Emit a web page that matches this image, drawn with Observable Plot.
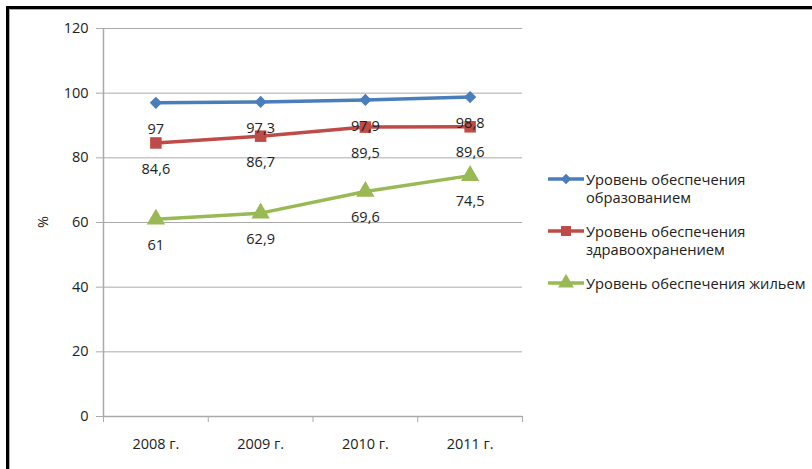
<!DOCTYPE html>
<html>
<head>
<meta charset="utf-8">
<script src="https://cdn.jsdelivr.net/npm/d3@7"></script>
<script src="https://cdn.jsdelivr.net/npm/@observablehq/plot@0.6"></script>
<style>
  html, body { margin: 0; padding: 0; background: #fff; }
  #wrap { position: relative; width: 812px; height: 469px; overflow: hidden; font-family: "Open Sans", sans-serif; color: #222; }
  #chart svg { display: block; }
  #frame { position: absolute; left: 6px; top: 6px; right: -10px; bottom: -10px; border-top: 3px solid #000; border-left: 3px solid #000; pointer-events: none; }
  #frame2 { position: absolute; left: 9px; top: 9px; right: -10px; bottom: -10px; border-top: 1px solid #b0b0b0; border-left: 1px solid #b0b0b0; pointer-events: none; }
  #ylabel { position: absolute; left: 42px; top: 222px; transform: translate(-50%, -50%) rotate(-90deg); font-size: 14.5px; }
  #legend { position: absolute; left: 548px; top: 170px; display: flex; flex-direction: column; gap: 16px; }
  .item { display: flex; align-items: flex-start; }
  .item svg { flex: none; margin-right: 2px; }
  .item span { font-size: 14.7px; line-height: 18px; max-width: 226px; }
</style>
</head>
<body>
<div id="wrap">
  <div id="chart"></div>
  <div id="ylabel">%</div>
  <div id="legend"></div>
  <div id="frame"></div>
  <div id="frame2"></div>
</div>
<script>
const categories = ["2008 г.", "2009 г.", "2010 г.", "2011 г."];
const seriesNames = ["Уровень обеспечения образованием", "Уровень обеспечения здравоохранением", "Уровень обеспечения жильем"];
const education = [97, 97.3, 97.9, 98.8];
const health = [84.6, 86.7, 89.5, 89.6];
const housing = [61, 62.9, 69.6, 74.5];
const yTicks = [0, 20, 40, 60, 80, 100, 120];

const colors = ["#4a7ebb", "#be4b48", "#98b954"];
const symbols = ["diamond2", "square", "triangle"];
const radii = [5.5, 6.5, 6.8];
const valuesBySeries = [education, health, housing];

const data = [];
valuesBySeries.forEach((vals, s) => vals.forEach((v, i) => data.push({series: seriesNames[s], s, idx: i + 1, value: v})));

const fmt = v => String(v).replace(".", ",");
const xDomain = [0.5, categories.length + 0.5];
const boundaries = d3.range(categories.length + 1).map(i => i + 0.5);
const centers = categories.map((_, i) => i + 1);

const marks = [
  Plot.ruleY(yTicks, {stroke: "#aaaaaa", strokeWidth: 1}),
  Plot.axisY({ticks: yTicks, tickSize: 7, tickPadding: 8, stroke: "#aaaaaa", fontSize: 14.5, fill: "#222", label: null}),
  Plot.ruleX([xDomain[0]], {stroke: "#aaaaaa", strokeWidth: 1.5}),
  Plot.axisX({ticks: boundaries, tickSize: 6, tickFormat: () => "", stroke: "#aaaaaa", label: null}),
  Plot.axisX({ticks: centers, tickSize: 0, tickPadding: 22, tickFormat: d => categories[d - 1], fontSize: 14.5, fill: "#222", label: null}),
  Plot.ruleY([0], {stroke: "#aaaaaa", strokeWidth: 1.5})
];
seriesNames.forEach((name, s) => {
  const d = data.filter(r => r.s === s);
  marks.push(Plot.line(d, {x: "idx", y: "value", stroke: colors[s], strokeWidth: 3.5}));
  marks.push(Plot.dot(d, {x: "idx", y: "value", symbol: () => symbols[s], r: radii[s], fill: colors[s], stroke: "none"}));
});
marks.push(Plot.text(data, {x: "idx", y: "value", text: d => fmt(d.value), dy: 26, fontSize: 14.5, fill: "#222"}));

const chart = Plot.plot({
  width: 812,
  height: 469,
  marginLeft: 103,
  marginRight: 290,
  marginTop: 28,
  marginBottom: 53,
  style: {fontFamily: "Open Sans, sans-serif", background: "#fff"},
  x: {type: "linear", domain: xDomain, axis: null},
  y: {domain: [0, 120], axis: null},
  symbol: {type: "identity"},
  marks
});
document.getElementById("chart").appendChild(chart);

// legend
const legend = document.getElementById("legend");
const symGen = {diamond2: d3.symbolDiamond2, square: d3.symbolSquare, triangle: d3.symbolTriangle};
seriesNames.forEach((name, s) => {
  const item = document.createElement("div");
  item.className = "item";
  const size = Math.PI * radii[s] * radii[s] * 0.75;
  const path = d3.symbol(symGen[symbols[s]], size)();
  item.innerHTML = `<svg width="36" height="18"><line x1="0" x2="36" y1="9" y2="9" stroke="${colors[s]}" stroke-width="3.5"/><path d="${path}" transform="translate(18,9)" fill="${colors[s]}"/></svg>`;
  const span = document.createElement("span");
  span.textContent = name;
  item.appendChild(span);
  legend.appendChild(item);
});
</script>
</body>
</html>
